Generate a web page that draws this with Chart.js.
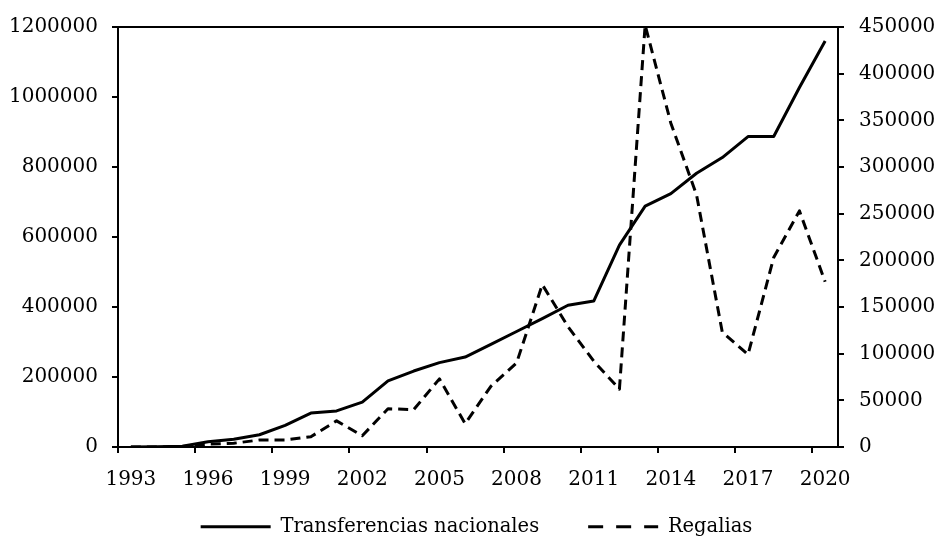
<!DOCTYPE html>
<html>
<head>
<meta charset="utf-8">
<script src="https://cdn.jsdelivr.net/npm/chart.js@4"></script>
<style>
  html, body { margin: 0; padding: 0; background: #fff; }
  #wrap { width: 939px; height: 542px; }
</style>
</head>
<body>
<div id="wrap"><canvas id="chart"></canvas></div>
<script>
// chart data
const years = ['1993','1994','1995','1996','1997','1998','1999','2000','2001','2002',
               '2003','2004','2005','2006','2007','2008','2009','2010','2011','2012',
               '2013','2014','2015','2016','2017','2018','2019','2020'];
const transferencias = [0, 1000, 2000, 15000, 22000, 35000, 62000, 97000, 103000, 128000,
                        189000, 217000, 241000, 257000, 293000, 330000, 367000, 405000, 417000, 577000,
                        688000, 724000, 782000, 827000, 887000, 887000, 1027000, 1160000];
const regalias = [0, 0, 500, 3000, 4000, 7500, 7500, 11000, 28000, 12000,
                  41000, 40000, 73000, 25000, 65000, 90000, 174000, 129000, 92000, 62000,
                  452000, 347000, 270000, 123000, 99000, 203000, 253000, 177000];
const seriesNames = ['Transferencias nacionales', 'Regalias'];
const leftMax = 1200000, leftStep = 200000;
const rightMax = 450000, rightStep = 50000;

const FONT = { family: '"DejaVu Serif", serif', size: 20 };
Chart.defaults.color = '#000';
Chart.defaults.font = FONT;

// top border of the plot box
const frame = {
    id: 'frame',
    afterDatasetsDraw(chart) {
        const { ctx, chartArea } = chart;
        ctx.save();
        ctx.strokeStyle = '#000';
        ctx.lineWidth = 2;
        ctx.beginPath();
        ctx.moveTo(chartArea.left - 1, chartArea.top);
        ctx.lineTo(chartArea.right + 1, chartArea.top);
        ctx.stroke();
        ctx.restore();
    }
};

// legend keeps its wide item spacing but sits higher (and a touch right) of where padding puts it
const legendLift = {
    id: 'legendLift',
    afterLayout(chart) {
        if (!chart.legend) return;
        chart.legend.top -= 23;
        chart.legend.left += 14;
    }
};

new Chart(document.getElementById('chart'), {
    type: 'line',
    data: {
        labels: years,
        datasets: [{
            label: seriesNames[0],
            data: transferencias,
            yAxisID: 'y',
            borderColor: '#000',
            backgroundColor: '#000',
            borderWidth: 3,
            pointRadius: 0,
            tension: 0,
            borderJoinStyle: 'round'
        }, {
            label: seriesNames[1],
            data: regalias,
            yAxisID: 'y2',
            borderColor: '#000',
            backgroundColor: '#000',
            borderWidth: 3,
            borderDash: [10, 6],
            pointRadius: 0,
            tension: 0,
            borderJoinStyle: 'round'
        }]
    },
    options: {
        responsive: true,
        maintainAspectRatio: false,
        animation: false,
        layout: { padding: { left: 0, right: 0, top: 22, bottom: 0 } },
        scales: {
            x: {
                offset: true,
                afterFit: (s) => { s.height = 44; },
                grid: {
                    offset: true,
                    drawOnChartArea: false,
                    tickLength: 6,
                    lineWidth: 2,
                    tickColor: (c) => (c.index % 3 === 0 ? '#000' : 'rgba(0,0,0,0)')
                },
                border: { color: '#000', width: 2 },
                ticks: {
                    autoSkip: false,
                    maxRotation: 0,
                    padding: 15,
                    callback: function (v, i) { return i % 3 === 0 ? this.getLabelForValue(v) : ''; }
                }
            },
            y: {
                position: 'left',
                min: 0,
                max: leftMax,
                afterFit: (s) => { s.width = 118; },
                grid: { drawOnChartArea: false, tickLength: 6, lineWidth: 2, color: '#000' },
                border: { color: '#000', width: 2 },
                ticks: { stepSize: leftStep, padding: 14, callback: (v) => String(v) }
            },
            y2: {
                position: 'right',
                min: 0,
                max: rightMax,
                afterFit: (s) => { s.width = 101; },
                grid: { drawOnChartArea: false, tickLength: 6, lineWidth: 2, color: '#000' },
                border: { color: '#000', width: 2 },
                ticks: { stepSize: rightStep, padding: 15, callback: (v) => String(v) }
            }
        },
        plugins: {
            tooltip: { enabled: false },
            legend: {
                position: 'bottom',
                maxHeight: 51,
                labels: {
                    usePointStyle: true,
                    pointStyle: 'line',
                    pointStyleWidth: 70,
                    padding: 49,
                    font: { family: '"DejaVu Serif", serif', size: 19.5 },
                    generateLabels(chart) {
                        const items = Chart.defaults.plugins.legend.labels.generateLabels(chart);
                        items.forEach((it) => {
                            it.pointStyle = 'line';
                            it.lineWidth = 3;
                            if (it.datasetIndex === 1) it.lineDash = [15, 13];
                        });
                        return items;
                    }
                }
            }
        }
    },
    plugins: [frame, legendLift]
});
</script>
</body>
</html>
